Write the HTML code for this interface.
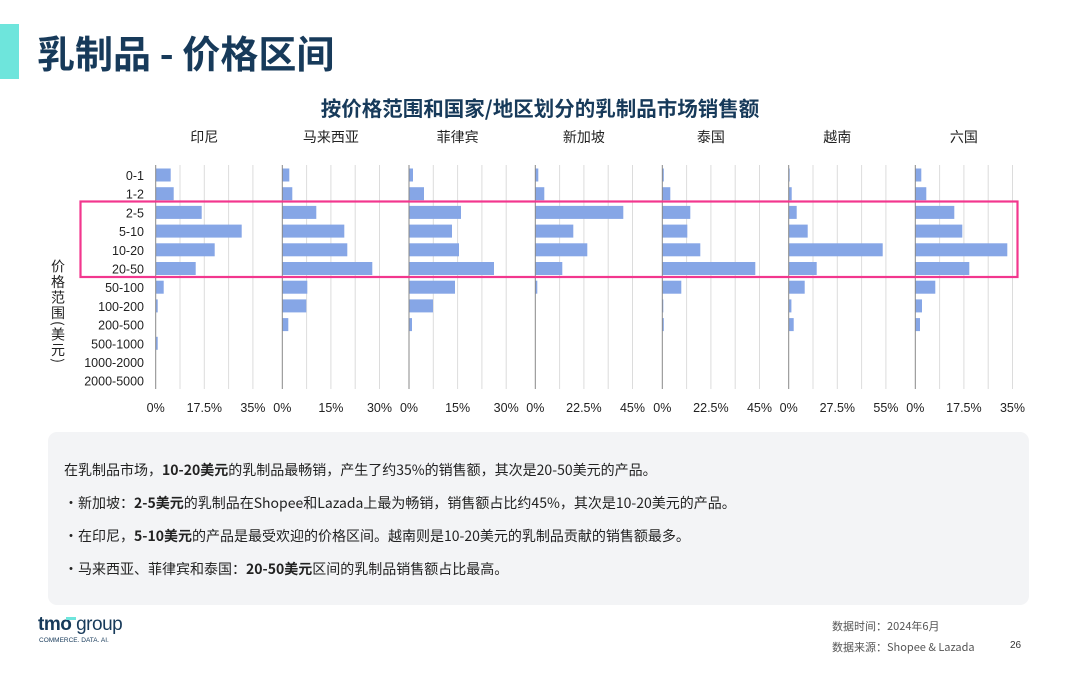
<!DOCTYPE html>
<html><head><meta charset="utf-8"><style>
body{margin:0;width:1080px;height:675px;background:#fff;overflow:hidden;font-family:"Liberation Sans","Noto Sans CJK SC",sans-serif;position:relative}
.abs{position:absolute}
</style></head><body>
<div class="abs" style="left:0;top:24px;width:19px;height:55px;background:#6ee5dc"></div>
<div class="abs" style="left:37px;top:28px;font-size:38px;font-weight:bold;color:#173a5a;font-family:'Noto Sans CJK SC',sans-serif;line-height:48px">乳制品 - 价格区间</div>
<div class="abs" style="left:0;width:1080px;top:92px;text-align:center;font-size:20.5px;font-weight:bold;color:#173a5a;font-family:'Noto Sans CJK SC',sans-serif">按价格范围和国家/地区划分的乳制品市场销售额</div>
<div class="abs" style="left:50px;top:259px;writing-mode:vertical-rl;font-size:14px;color:#222;font-family:'Noto Sans CJK SC',sans-serif;line-height:16px;letter-spacing:1.5px">价格范围(美元)</div>
<svg class="abs" style="left:0;top:0" width="1080" height="430" font-family="Liberation Sans, Noto Sans CJK SC, sans-serif" font-size="12.5" fill="#222">
<g id="g"></g>
<g text-anchor="end">
<text x="144" y="180">0-1</text><text x="144" y="198.7">1-2</text><text x="144" y="217.4">2-5</text><text x="144" y="236.1">5-10</text><text x="144" y="254.8">10-20</text><text x="144" y="273.5">20-50</text><text x="144" y="292.2">50-100</text><text x="144" y="310.9">100-200</text><text x="144" y="329.6">200-500</text><text x="144" y="348.3">500-1000</text><text x="144" y="367">1000-2000</text><text x="144" y="385.7">2000-5000</text>
</g>
<rect x="80.5" y="201.5" width="937" height="75.5" fill="none" stroke="#f2378e" stroke-width="2.2"/>
</svg>
<script>
var zs=[155.7,282.3,409,535.3,662.3,788.7,915.3];
var names=["印尼","马来西亚","菲律宾","新加坡","泰国","越南","六国"];
var ticks=[["0%","17.5%","35%"],["0%","15%","30%"],["0%","15%","30%"],["0%","22.5%","45%"],["0%","22.5%","45%"],["0%","27.5%","55%"],["0%","17.5%","35%"]];
var vals=[[15,18,46,86,59,40,8,2,0,2,0,0],[7,10,34,62,65,90,25,24,6,0,0,0],[4,15,52,43,50,85,46,24,3,0,0,0],[3,9,88,38,52,27,2,0,0,0,0,0],[1.5,8,28,25,38,93,19,1,1.5,0,0,0],[1,3,8,19,94,28,16,2.7,5,0,0,0],[6,11,39,47,92,54,20,6.7,4.7,0,0,0]];
var s="";
for(var p=0;p<7;p++){var z=zs[p];
for(var k=1;k<=4;k++){var x=z+k*24.3;s+='<line x1="'+x+'" x2="'+x+'" y1="165" y2="389" stroke="#dcdcdc" stroke-width="1"/>';}
for(var i=0;i<12;i++){var v=vals[p][i];if(v>0)s+='<rect x="'+z+'" y="'+(168.5+i*18.7)+'" width="'+v+'" height="13" fill="#86a6e6"/>';}
s+='<line x1="'+z+'" x2="'+z+'" y1="165" y2="389" stroke="#888" stroke-width="1"/>';
for(var k=0;k<3;k++)s+='<text x="'+(z+k*48.6)+'" y="412" text-anchor="middle">'+ticks[p][k]+'</text>';
s+='<text x="'+(z+48.6)+'" y="142" text-anchor="middle" font-size="14" font-family="Noto Sans CJK SC, sans-serif">'+names[p]+'</text>';}
document.getElementById("g").innerHTML=s;
</script>
<div class="abs" style="left:48px;top:432px;width:981px;height:173px;background:#f3f4f6;border-radius:9px"></div>
<div class="abs" style="left:64px;top:454px;font-size:14px;color:#222;line-height:33px;font-family:'Noto Sans CJK SC',sans-serif">
<div>在乳制品市场，<b>10-20美元</b>的乳制品最畅销，产生了约35%的销售额，其次是20-50美元的产品。</div>
<div>・新加坡：<b>2-5美元</b>的乳制品在Shopee和Lazada上最为畅销，销售额占比约45%，其次是10-20美元的产品。</div>
<div>・在印尼，<b>5-10美元</b>的产品是最受欢迎的价格区间。越南则是10-20美元的乳制品贡献的销售额最多。</div>
<div>・马来西亚、菲律宾和泰国：<b>20-50美元</b>区间的乳制品销售额占比最高。</div>
</div>
<div class="abs" style="left:38px;top:614px;font-size:19px;color:#173a5a;font-weight:bold;letter-spacing:-0.5px">tmo <span style="font-weight:normal">group</span></div>
<div class="abs" style="left:66px;top:617px;width:10px;height:3px;background:#6ee5dc"></div>
<div class="abs" style="left:39px;top:637px;font-size:6.5px;color:#173a5a">COMMERCE. DATA. AI.</div>
<div class="abs" style="left:832px;top:618px;font-size:11px;color:#555;font-family:'Noto Sans CJK SC',sans-serif">数据时间：2024年6月</div>
<div class="abs" style="left:832px;top:639px;font-size:11px;color:#555;font-family:'Noto Sans CJK SC',sans-serif">数据来源：Shopee &amp; Lazada</div>
<div class="abs" style="left:1010px;top:640px;font-size:10px;color:#333">26</div>
</body></html>
